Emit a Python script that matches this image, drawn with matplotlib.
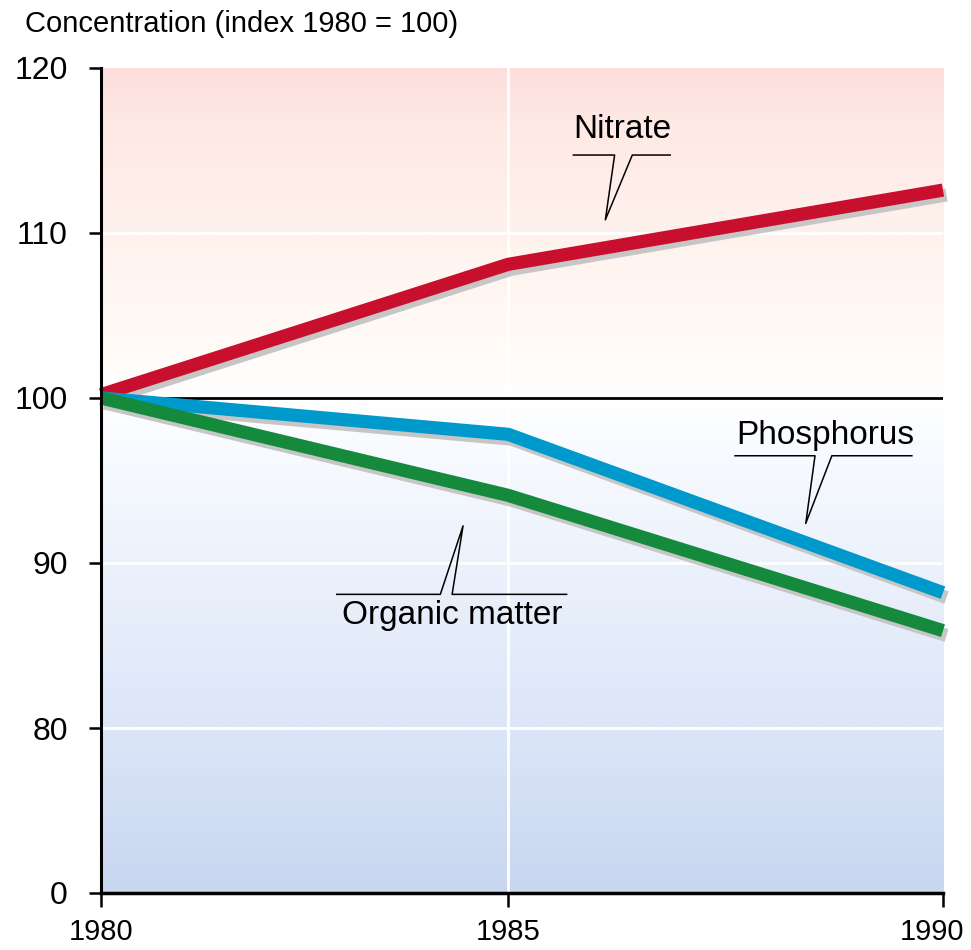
import numpy as np
import matplotlib
matplotlib.use("Agg")
import matplotlib.pyplot as plt
import matplotlib.patheffects as pe
import matplotlib.transforms as mtrans
from matplotlib.colors import LinearSegmentedColormap
from matplotlib import font_manager as fm

# ---- data ----
years = [1980, 1985, 1990]
nitrate = [100.2, 108.1, 112.6]
phosphorus = [100.0, 97.8, 88.2]
organic = [100.0, 94.1, 85.9]
series_names = ["Nitrate", "Phosphorus", "Organic matter"]
ytick_vals = [70, 80, 90, 100, 110, 120]
ytick_labels = ["0", "80", "90", "100", "110", "120"]
xtick_labels = ["1980", "1985", "1990"]
title = "Concentration (index 1980 = 100)"

plt.rcParams["font.family"] = ["Liberation Sans", "DejaVu Sans"]
names = {f.name for f in fm.fontManager.ttflist}
narrow = "Liberation Sans Narrow" if "Liberation Sans Narrow" in names else "Liberation Sans"

fig = plt.figure(figsize=(9.71, 9.5), dpi=100)
ax = fig.add_axes([101 / 971, 1 - 893 / 950, 842 / 971, 825 / 950])

# piecewise x scale (1985 sits a bit left of centre in the original)
xp = [1980.0, 1985.0, 1990.0]
fp = [0.0, 0.4835, 1.0]
def fwd(x):
    return np.interp(x, xp, fp)
def inv(y):
    return np.interp(y, fp, xp)
ax.set_xscale("function", functions=(fwd, inv))
ax.set_xlim(1980, 1990)
ax.set_ylim(70, 120)

# background gradient
stops = [
    (0.00, (200/255, 214/255, 240/255)),
    (0.20, (220/255, 230/255, 248/255)),
    (0.40, (236/255, 242/255, 252/255)),
    (0.56, (250/255, 252/255, 255/255)),
    (0.60, (255/255, 255/255, 255/255)),
    (0.66, (255/255, 251/255, 247/255)),
    (0.80, (255/255, 242/255, 237/255)),
    (0.94, (254/255, 232/255, 228/255)),
    (1.00, (253/255, 222/255, 220/255)),
]
cmap = LinearSegmentedColormap.from_list("bg", stops)
grad = np.linspace(0, 1, 500).reshape(-1, 1)
ax.imshow(grad, extent=[0, 1, 0, 1], transform=ax.transAxes, origin="lower",
          aspect="auto", cmap=cmap, zorder=0)

# white gridlines
for yv in [80, 90, 110]:
    ax.axhline(yv, color="white", lw=2, zorder=1)
ax.axvline(1985, color="white", lw=2, zorder=1)
ax.axhline(100, color="black", lw=2, zorder=2)

shadow = [pe.SimpleLineShadow(offset=(2.5, -3.5), shadow_color="#c6c6c6", alpha=1.0),
          pe.Normal()]
colors = ["#c8102e", "#0099cc", "#158a3c"]
for vals, c in zip([nitrate, phosphorus, organic], colors):
    ax.plot(years, vals, color=c, lw=9.5, solid_capstyle="butt", solid_joinstyle="miter",
            path_effects=shadow, zorder=4, clip_on=False)

# callouts (axes fraction coords)
def callout(text, tx, ty, lx0, lx1, ly, b0, b1, tipx, tipy):
    ax.plot([lx0, b0, tipx, b1, lx1], [ly, ly, tipy, ly, ly], color="black", lw=1.1,
            transform=ax.transAxes, zorder=5, clip_on=False)
    ax.text(tx, ty, text, transform=ax.transAxes, ha="center", va="center",
            fontsize=24, zorder=6)

callout(series_names[0], 0.619, 0.926, 0.561, 0.676, 0.8945, 0.610, 0.631, 0.599, 0.816)
callout(series_names[1], 0.860, 0.554, 0.753, 0.963, 0.530, 0.848, 0.868, 0.837, 0.448)
callout(series_names[2], 0.417, 0.336, 0.280, 0.553, 0.362, 0.403, 0.417, 0.430, 0.445)

# axes styling
for s in ["top", "right"]:
    ax.spines[s].set_visible(False)
ax.spines["left"].set_linewidth(2.2)
ax.spines["bottom"].set_linewidth(2.5)
ax.spines["left"].set_zorder(7)
ax.spines["bottom"].set_zorder(7)
ax.set_yticks(ytick_vals)
ax.set_yticklabels(ytick_labels)
ax.set_xticks(years)
ax.set_xticklabels(xtick_labels, family=[narrow, "Liberation Sans"])
ax.tick_params(axis="y", length=9, width=1.8, pad=15, labelsize=23)
ax.tick_params(axis="x", length=10, width=1.8, pad=8, labelsize=21)
last = ax.get_xticklabels()[-1]
last.set_transform(last.get_transform() + mtrans.ScaledTranslation(-8 / 72, 0, fig.dpi_scale_trans))

fig.text(25 / 971, 1 - 24 / 950, title, fontsize=21, ha="left", va="center")

fig.savefig("out.png", dpi=100)
